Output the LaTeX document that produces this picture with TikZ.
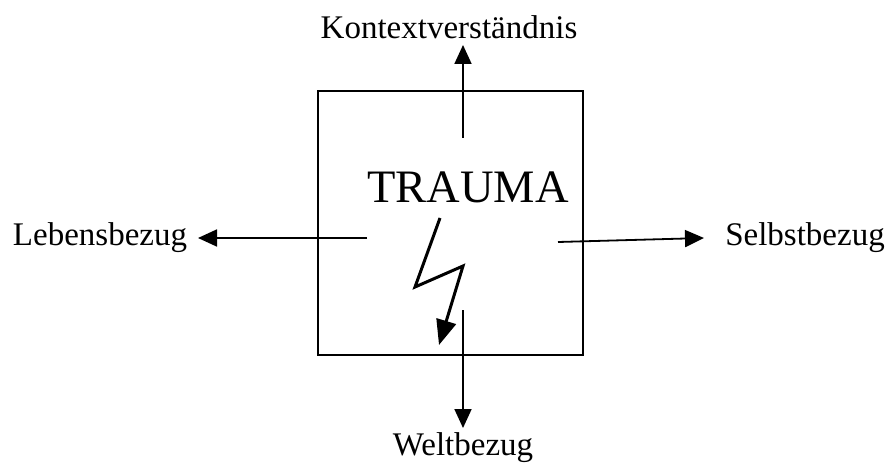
\documentclass[tikz,border=0pt]{standalone}
\usepackage{fontspec}
\setmainfont{Liberation Serif}
\usetikzlibrary{arrows.meta}
\begin{document}
\begin{tikzpicture}[x=1pt,y=-1pt,
  lbl/.style={inner sep=0pt,font=\fontsize{33}{33}\selectfont},
  conn/.style={line width=1.8pt,-{Triangle[length=19pt,width=17pt]}},
  bolt/.style={line width=3pt,-{Triangle[length=25pt,width=20pt]}}]
\useasboundingbox (0,0) rectangle (893,465);
\node[draw,line width=1.8pt,minimum width=265pt,minimum height=264pt,inner sep=0pt] (box) at (450.5,223) {};
\node[inner sep=0pt,font=\fontsize{46.5}{46.5}\selectfont] (trauma) at (468,187) {TRAUMA};
\node[lbl] (kontext) at (449,27) {Kontextverständnis};
\node[lbl] (leben) at (100,238) {Lebensbezug};
\node[lbl] (selbst) at (805,238) {Selbstbezug};
\node[lbl] (welt) at (463,448) {Weltbezug};
\coordinate (cu) at (463,138);
\coordinate (tu) at (463,45);
\coordinate (cl) at (367,238);
\coordinate (tl) at (198,238);
\coordinate (cr) at (558,242);
\coordinate (tr) at (704,238);
\coordinate (cd) at (463,310);
\coordinate (td) at (463,428);
\draw[conn] (cu) -- (tu);
\draw[conn] (cl) -- (tl);
\draw[conn] (cr) -- (tr);
\draw[conn] (cd) -- (td);
\coordinate (b1) at (440,218);
\coordinate (b2) at (415,287);
\coordinate (b3) at (463,266);
\coordinate (b4) at (439,345);
\draw[bolt,line join=miter] (b1) -- (b2) -- (b3) -- (b4);
\end{tikzpicture}
\end{document}
